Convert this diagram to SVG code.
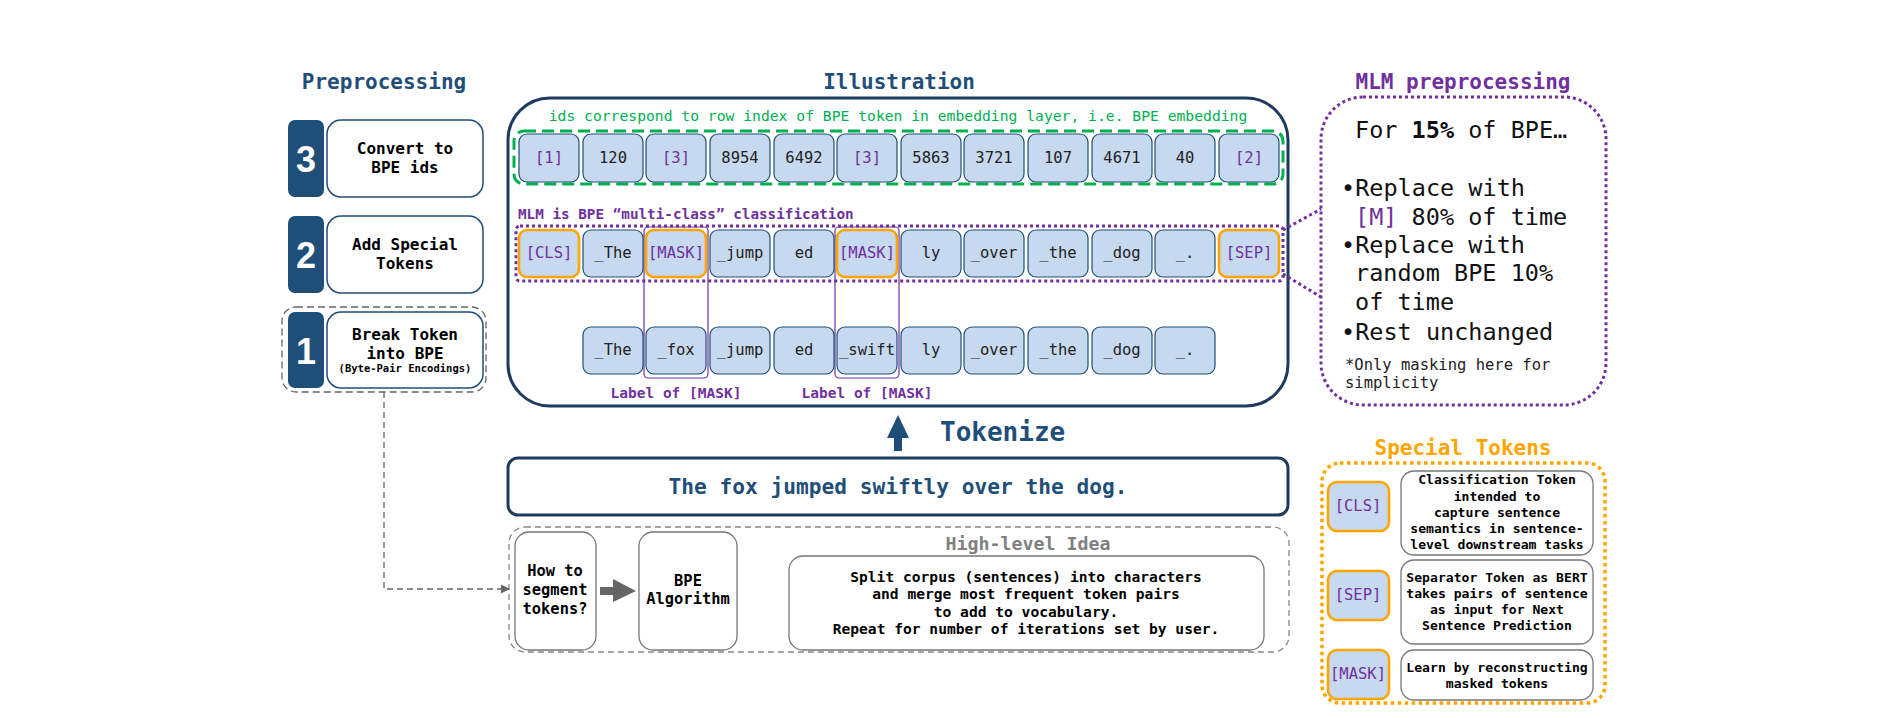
<svg xmlns="http://www.w3.org/2000/svg" width="1890" height="718" viewBox="0 0 1890 718">
<defs>
<style>
text{font-family:"DejaVu Sans Mono","Liberation Mono",monospace;dominant-baseline:central}
.b{font-weight:bold}
.mid{text-anchor:middle}
.title{font-size:21px;font-weight:bold;text-anchor:middle}
.navy{fill:#1f4e79}
.purple{fill:#7030a0}
.badge{fill:#1f4e79}
.num{font-family:"Liberation Sans",Arial,sans-serif;font-size:36px;font-weight:bold;fill:#fff;text-anchor:middle}
.pbox{fill:#fff;stroke:#1f4e79;stroke-width:1.5}
.ptxt{font-size:16px;font-weight:bold;fill:#000;text-anchor:middle}
.tok{fill:#c6d9ee;stroke:#1f4e79;stroke-width:1.2}
.tokO{fill:#c6d9ee;stroke:#ffa500;stroke-width:2.6}
.tt{font-size:15.5px;fill:#222;text-anchor:middle}
.ts{font-size:15.5px;fill:#7030a0;text-anchor:middle}
.gbox{fill:none;stroke:#777;stroke-width:1.3}
.btxt{font-size:14.6px;font-weight:bold;fill:#000;text-anchor:middle}
.stxt{font-size:13.1px;font-weight:bold;fill:#000;text-anchor:middle}
.mlm{font-size:23.5px;fill:#111}
</style>
<marker id="ah" viewBox="0 0 10 10" refX="9" refY="5" markerWidth="7" markerHeight="7" orient="auto">
<path d="M0,0 L10,5 L0,10 z" fill="#666"/>
</marker>
</defs>
<rect x="0" y="0" width="1890" height="718" fill="#fff"/>

<!-- Titles -->
<text class="title navy" x="384" y="82">Preprocessing</text>
<text class="title navy" x="899" y="82">Illustration</text>
<text class="title purple" x="1463" y="82">MLM preprocessing</text>
<text class="title" x="1463" y="448" fill="#ffa500">Special Tokens</text>

<!-- Preprocessing steps -->
<g id="step3">
<rect class="badge" x="288" y="120" width="36" height="77" rx="7"/>
<text class="num" x="306" y="159">3</text>
<rect class="pbox" x="327" y="120" width="156" height="77" rx="14"/>
<text class="ptxt" x="405" y="148">Convert to</text>
<text class="ptxt" x="405" y="167">BPE ids</text>
</g>
<g id="step2">
<rect class="badge" x="288" y="216" width="36" height="77" rx="7"/>
<text class="num" x="306" y="255">2</text>
<rect class="pbox" x="327" y="216" width="156" height="77" rx="14"/>
<text class="ptxt" x="405" y="244">Add Special</text>
<text class="ptxt" x="405" y="263">Tokens</text>
</g>
<g id="step1">
<rect x="282" y="307" width="204" height="85" rx="14" fill="none" stroke="#666" stroke-width="1.3" stroke-dasharray="7 4"/>
<rect class="badge" x="288" y="312" width="36" height="76" rx="7"/>
<text class="num" x="306" y="351">1</text>
<rect class="pbox" x="327" y="312" width="156" height="76" rx="14"/>
<text class="ptxt" x="405" y="334">Break Token</text>
<text class="ptxt" x="405" y="353">into BPE</text>
<text x="405" y="368" class="mid b" font-size="10.5px">(Byte-Pair Encodings)</text>
</g>

<!-- Illustration -->
<g id="illustration">
<rect x="508" y="98" width="780" height="308" rx="42" fill="none" stroke="#1f3a5f" stroke-width="3"/>
<text x="898" y="115" class="mid" font-size="14.7px" fill="#00b050">ids correspond to row index of BPE token in embedding layer, i.e. BPE embedding</text>
<rect x="514" y="131" width="769" height="53" rx="10" fill="none" stroke="#00b050" stroke-width="3" stroke-dasharray="12 6"/>
<text x="518" y="214" class="b purple" font-size="14.3px">MLM is BPE “multi-class” classification</text>
<rect x="516" y="226" width="767" height="55" rx="4" fill="none" stroke="#7030a0" stroke-width="3" stroke-dasharray="3 3"/>
<rect x="644" y="227" width="64" height="151" rx="4" fill="none" stroke="#7030a0" stroke-width="1.2"/>
<rect x="835" y="227" width="64" height="151" rx="4" fill="none" stroke="#7030a0" stroke-width="1.2"/>
<text x="676" y="393" class="mid b purple" font-size="14.5px">Label of [MASK]</text>
<text x="867" y="393" class="mid b purple" font-size="14.5px">Label of [MASK]</text>
</g>

<g id="row-ids">
<rect class="tok" x="519" y="134" width="60" height="48" rx="8"/><text class="ts" x="549" y="158">[1]</text>
<rect class="tok" x="583" y="134" width="60" height="48" rx="8"/><text class="tt" x="613" y="158">120</text>
<rect class="tok" x="646" y="134" width="60" height="48" rx="8"/><text class="ts" x="676" y="158">[3]</text>
<rect class="tok" x="710" y="134" width="60" height="48" rx="8"/><text class="tt" x="740" y="158">8954</text>
<rect class="tok" x="774" y="134" width="60" height="48" rx="8"/><text class="tt" x="804" y="158">6492</text>
<rect class="tok" x="837" y="134" width="60" height="48" rx="8"/><text class="ts" x="867" y="158">[3]</text>
<rect class="tok" x="901" y="134" width="60" height="48" rx="8"/><text class="tt" x="931" y="158">5863</text>
<rect class="tok" x="964" y="134" width="60" height="48" rx="8"/><text class="tt" x="994" y="158">3721</text>
<rect class="tok" x="1028" y="134" width="60" height="48" rx="8"/><text class="tt" x="1058" y="158">107</text>
<rect class="tok" x="1092" y="134" width="60" height="48" rx="8"/><text class="tt" x="1122" y="158">4671</text>
<rect class="tok" x="1155" y="134" width="60" height="48" rx="8"/><text class="tt" x="1185" y="158">40</text>
<rect class="tok" x="1219" y="134" width="60" height="48" rx="8"/><text class="ts" x="1249" y="158">[2]</text>
</g>

<g id="row-masked">
<rect class="tokO" x="519" y="230" width="60" height="47" rx="8"/><text class="ts" x="549" y="253">[CLS]</text>
<rect class="tok" x="583" y="230" width="60" height="47" rx="8"/><text class="tt" x="613" y="253">_The</text>
<rect class="tokO" x="646" y="230" width="60" height="47" rx="8"/><text class="ts" x="676" y="253">[MASK]</text>
<rect class="tok" x="710" y="230" width="60" height="47" rx="8"/><text class="tt" x="740" y="253">_jump</text>
<rect class="tok" x="774" y="230" width="60" height="47" rx="8"/><text class="tt" x="804" y="253">ed</text>
<rect class="tokO" x="837" y="230" width="60" height="47" rx="8"/><text class="ts" x="867" y="253">[MASK]</text>
<rect class="tok" x="901" y="230" width="60" height="47" rx="8"/><text class="tt" x="931" y="253">ly</text>
<rect class="tok" x="964" y="230" width="60" height="47" rx="8"/><text class="tt" x="994" y="253">_over</text>
<rect class="tok" x="1028" y="230" width="60" height="47" rx="8"/><text class="tt" x="1058" y="253">_the</text>
<rect class="tok" x="1092" y="230" width="60" height="47" rx="8"/><text class="tt" x="1122" y="253">_dog</text>
<rect class="tok" x="1155" y="230" width="60" height="47" rx="8"/><text class="tt" x="1185" y="253">_.</text>
<rect class="tokO" x="1219" y="230" width="60" height="47" rx="8"/><text class="ts" x="1249" y="253">[SEP]</text>
</g>

<g id="row-labels">
<rect class="tok" x="583" y="327" width="60" height="47" rx="8"/><text class="tt" x="613" y="350">_The</text>
<rect class="tok" x="646" y="327" width="60" height="47" rx="8"/><text class="tt" x="676" y="350">_fox</text>
<rect class="tok" x="710" y="327" width="60" height="47" rx="8"/><text class="tt" x="740" y="350">_jump</text>
<rect class="tok" x="774" y="327" width="60" height="47" rx="8"/><text class="tt" x="804" y="350">ed</text>
<rect class="tok" x="837" y="327" width="60" height="47" rx="8"/><text class="tt" x="867" y="350">_swift</text>
<rect class="tok" x="901" y="327" width="60" height="47" rx="8"/><text class="tt" x="931" y="350">ly</text>
<rect class="tok" x="964" y="327" width="60" height="47" rx="8"/><text class="tt" x="994" y="350">_over</text>
<rect class="tok" x="1028" y="327" width="60" height="47" rx="8"/><text class="tt" x="1058" y="350">_the</text>
<rect class="tok" x="1092" y="327" width="60" height="47" rx="8"/><text class="tt" x="1122" y="350">_dog</text>
<rect class="tok" x="1155" y="327" width="60" height="47" rx="8"/><text class="tt" x="1185" y="350">_.</text>
</g>

<!-- MLM preprocessing -->
<g id="mlm-preprocessing">
<rect x="1321" y="97" width="285" height="308" rx="42" fill="none" stroke="#7030a0" stroke-width="3" stroke-dasharray="3 3"/>
<text class="mlm" x="1355" y="130">For <tspan font-weight="bold">15%</tspan> of BPE…</text>
<text class="mlm" x="1341" y="188">•Replace with</text>
<text class="mlm" x="1355" y="217"><tspan fill="#7030a0">[M]</tspan> 80% of time</text>
<text class="mlm" x="1341" y="245">•Replace with</text>
<text class="mlm" x="1355" y="273">random BPE 10%</text>
<text class="mlm" x="1355" y="302">of time</text>
<text class="mlm" x="1341" y="332">•Rest unchanged</text>
<text x="1345" y="365" font-size="15.5px" fill="#222">*Only masking here for</text>
<text x="1345" y="383" font-size="15.5px" fill="#222">simplicity</text>
</g>

<!-- Tokenize -->
<g id="tokenize">
<path d="M894,451 V438 H887 L898,415 L909,438 H902 V451 Z" fill="#1f4e79"/>
<text x="940" y="432" font-family="'Liberation Sans',Arial,sans-serif" font-size="26px" font-weight="bold" fill="#1f4e79">Tokenize</text>
</g>

<g id="sentence">
<rect x="508" y="458" width="780" height="57" rx="10" fill="#fff" stroke="#1f3a5f" stroke-width="3"/>
<text x="898" y="486" class="mid b" font-size="21.2px" fill="#1f4e79">The fox jumped swiftly over the dog.</text>
</g>

<!-- High-level idea -->
<g id="high-level-idea">
<rect x="509" y="527" width="780" height="125" rx="16" fill="none" stroke="#888" stroke-width="1.3" stroke-dasharray="6 4"/>
<text x="1028" y="543" class="mid b" font-size="18.3px" fill="#808080">High-level Idea</text>
</g>
<g id="how-to-segment">
<rect class="gbox" x="515" y="532" width="81" height="118" rx="14" fill="#fff"/>
<text class="mid b" font-size="15.4px" x="555" y="571">How to</text>
<text class="mid b" font-size="15.4px" x="555" y="590">segment</text>
<text class="mid b" font-size="15.4px" x="555" y="609">tokens?</text>
</g>
<g id="bpe-algorithm">
<rect class="gbox" x="639" y="532" width="98" height="118" rx="14" fill="#fff"/>
<text class="mid b" font-size="15.4px" x="688" y="581">BPE</text>
<text class="mid b" font-size="15.4px" x="688" y="599">Algorithm</text>
</g>
<g id="bpe-description">
<rect class="gbox" x="789" y="556" width="475" height="94" rx="14" fill="#fff"/>
<text class="btxt" x="1026" y="576">Split corpus (sentences) into characters</text>
<text class="btxt" x="1026" y="593">and merge most frequent token pairs</text>
<text class="btxt" x="1026" y="611">to add to vocabulary.</text>
<text class="btxt" x="1026" y="628">Repeat for number of iterations set by user.</text>
</g>

<!-- Special tokens -->
<g id="special-tokens">
<rect x="1322" y="463" width="283" height="240" rx="18" fill="none" stroke="#ffa500" stroke-width="3.5" stroke-dasharray="3.5 3.5"/>
</g>
<g id="cls-token">
<rect class="tokO" x="1328" y="482" width="61" height="49" rx="9"/><text class="ts" x="1358" y="506">[CLS]</text>
<rect class="gbox" x="1401" y="471" width="192" height="84" rx="13"/>
<text class="stxt" x="1497" y="479">Classification Token</text>
<text class="stxt" x="1497" y="496">intended to</text>
<text class="stxt" x="1497" y="512">capture sentence</text>
<text class="stxt" x="1497" y="528">semantics in sentence-</text>
<text class="stxt" x="1497" y="544">level downstream tasks</text>
</g>
<g id="sep-token">
<rect class="tokO" x="1328" y="571" width="61" height="49" rx="9"/><text class="ts" x="1358" y="595">[SEP]</text>
<rect class="gbox" x="1401" y="560" width="192" height="84" rx="13"/>
<text class="stxt" x="1497" y="577">Separator Token as BERT</text>
<text class="stxt" x="1497" y="593">takes pairs of sentence</text>
<text class="stxt" x="1497" y="609">as input for Next</text>
<text class="stxt" x="1497" y="625">Sentence Prediction</text>
</g>
<g id="mask-token">
<rect class="tokO" x="1328" y="650" width="61" height="49" rx="9"/><text class="ts" x="1358" y="674">[MASK]</text>
<rect class="gbox" x="1401" y="650" width="192" height="50" rx="13"/>
<text class="stxt" x="1497" y="667">Learn by reconstructing</text>
<text class="stxt" x="1497" y="683">masked tokens</text>
</g>

<!-- Connectors -->
<g id="connectors">
<path d="M384,392 V589 H509" fill="none" stroke="#666" stroke-width="1.3" stroke-dasharray="6 4" marker-end="url(#ah)"/>
<path d="M600,587 H613 V579 L636,591 L613,602 V595 H600 Z" fill="#666"/>
<line x1="1283" y1="230" x2="1321" y2="209" stroke="#7030a0" stroke-width="3" stroke-dasharray="3 3"/>
<line x1="1283" y1="274" x2="1321" y2="297" stroke="#7030a0" stroke-width="3" stroke-dasharray="3 3"/>
</g>
</svg>
